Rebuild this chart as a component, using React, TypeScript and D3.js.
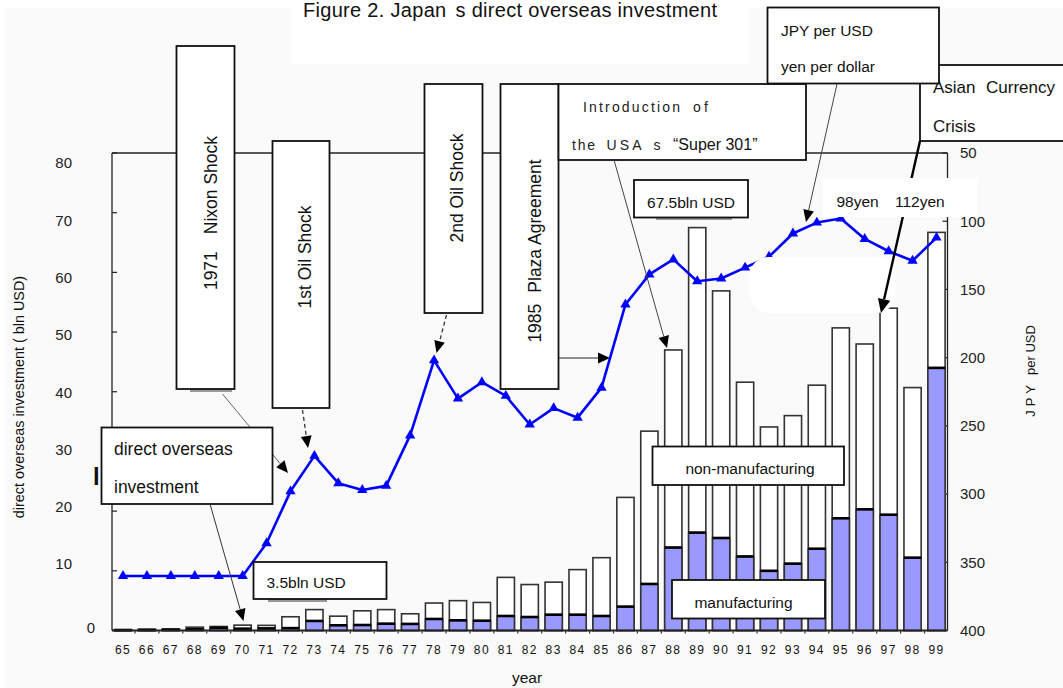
import React from "react";
import * as d3 from "d3";

// Japan's direct overseas investment (bln USD, fiscal year) and the yen rate (JPY per USD)
const yearLabels = [
  "65", "66", "67", "68", "69", "70", "71", "72", "73", "74", "75", "76",
  "77", "78", "79", "80", "81", "82", "83", "84", "85", "86", "87", "88",
  "89", "90", "91", "92", "93", "94", "95", "96", "97", "98", "99",
];

const totalInvestment = [
  0.16, 0.23, 0.28, 0.56, 0.67, 0.9, 0.86, 2.3, 3.5, 2.4, 3.3, 3.5,
  2.8, 4.6, 5.0, 4.7, 8.9, 7.7, 8.1, 10.2, 12.2, 22.3, 33.4, 47.0,
  67.5, 56.9, 41.6, 34.1, 36.0, 41.1, 50.7, 48.0, 54.0, 40.7, 66.7,
];

const manufacturing = [
  0.05, 0.07, 0.1, 0.2, 0.45, 0.3, 0.35, 0.4, 1.6, 0.87, 0.92, 1.14,
  1.1, 1.93, 1.7, 1.64, 2.43, 2.26, 2.65, 2.65, 2.43, 4.0, 7.8, 13.9,
  16.4, 15.5, 12.4, 10.0, 11.2, 13.7, 18.8, 20.3, 19.4, 12.2, 44.0,
];

const yenPerDollar = [
  360, 360, 360, 360, 360, 360, 336, 298, 272, 292, 297, 294,
  257, 202, 230, 218, 228, 249, 237, 244, 222, 161, 139, 128,
  144, 142, 134, 126, 109, 101, 98, 113, 122, 129, 112,
];

const investmentTicks = [0, 10, 20, 30, 40, 50, 60, 70, 80];
const yenTicks = [50, 100, 150, 200, 250, 300, 350, 400];

const FONT = "'Liberation Sans', Arial, Helvetica, sans-serif";

type ArrowProps = {
  x1: number; y1: number; x2: number; y2: number;
  w?: number; dash?: string; color?: string; head?: number;
};

// straight connector ending in a filled arrowhead at (x2, y2)
function Arrow({ x1, y1, x2, y2, w = 1, dash, color = "#444", head = 12 }: ArrowProps) {
  const dx = x2 - x1;
  const dy = y2 - y1;
  const len = Math.hypot(dx, dy);
  const ux = dx / len;
  const uy = dy / len;
  const bx = x2 - ux * head;
  const by = y2 - uy * head;
  const hw = head * 0.45;
  const pts = [
    [x2, y2],
    [bx - uy * hw, by + ux * hw],
    [bx + uy * hw, by - ux * hw],
  ]
    .map((p) => p.join(","))
    .join(" ");
  return (
    <g>
      <line x1={x1} y1={y1} x2={bx} y2={by} stroke={color} strokeWidth={w} strokeDasharray={dash} />
      <polygon points={pts} fill="#000" />
    </g>
  );
}

type NoteProps = {
  x: number; y: number; w: number; h: number; cx: number; cy: number;
  lead?: string; gap?: number; text: string;
};

// tall boxed note with text running bottom-to-top
function VerticalNote({ x, y, w, h, cx, cy, lead, gap = 0, text }: NoteProps) {
  return (
    <g>
      <rect x={x} y={y} width={w} height={h} fill="#fff" stroke="#111" strokeWidth={1.8} />
      <text
        transform={`translate(${cx},${cy}) rotate(-90)`}
        textAnchor="middle"
        dy="0.36em"
        fontSize={17.5}
        fill="#111"
      >
        {lead && <tspan>{lead}</tspan>}
        <tspan dx={lead ? gap : 0}>{text}</tspan>
      </text>
    </g>
  );
}

export default function App() {
  const x = d3
    .scaleBand<string>()
    .domain(yearLabels)
    .range([112, 947.5])
    .paddingInner(0.28)
    .paddingOuter(0.1);
  const bw = x.bandwidth();
  const step = x.step();
  const yL = d3.scaleLinear().domain([0, 80]).range([630.5, 153]);
  const yR = d3.scaleLinear().domain([50, 400]).range([153, 630.5]);
  const yLabel = d3.scaleLinear().domain([10, 80]).range([564, 163]);

  const cx = (i: number) => (x(yearLabels[i]) as number) + bw / 2;
  const line = d3
    .line<number>()
    .x((_, i) => cx(i))
    .y((d) => yR(d));
  const tri = d3.symbol().type(d3.symbolTriangle).size(46)() as string;

  const left = 112;
  const right = 947.5;
  const top = 153;
  const base = yL(0);

  return (
    <svg
      width={1063}
      height={688}
      style={{ position: "absolute", left: 0, top: 0, background: "#fff" }}
      fontFamily={FONT}
    >
      {/* page background */}
      <rect x={6} y={8} width={1057} height={680} fill="#fafafa" />
      <rect x={290} y={0} width={460} height={64} fill="#fff" />

      {/* title */}
      <text x={303} y={17} fontSize={20} letterSpacing={0.3} fill="#111">
        <tspan>Figure 2. Japan</tspan>
        <tspan dx={9}>s direct overseas investment</tspan>
      </text>

      {/* plot frame */}
      <line x1={left} y1={top} x2={right} y2={top} stroke="#222" strokeWidth={1.3} />
      <line x1={left} y1={top} x2={left} y2={base} stroke="#222" strokeWidth={1.3} />
      <line x1={right} y1={top} x2={right} y2={base} stroke="#222" strokeWidth={1.3} />

      {/* left axis ticks and labels */}
      {investmentTicks.map((v) => (
        <g key={`lt${v}`}>
          <line x1={left} x2={left + 5} y1={yL(v)} y2={yL(v)} stroke="#222" strokeWidth={1.2} />
          <text
            x={v === 0 ? 95 : 72}
            y={v === 0 ? yL(0) - 3 : yLabel(v)}
            dy="0.36em"
            textAnchor="end"
            fontSize={15}
            fill="#222"
          >
            {v}
          </text>
        </g>
      ))}

      {/* right axis ticks and labels */}
      {yenTicks.map((v) => (
        <g key={`rt${v}`}>
          <line x1={right - 5} x2={right} y1={yR(v)} y2={yR(v)} stroke="#222" strokeWidth={1.2} />
          <text x={960} y={yR(v)} dy="0.36em" fontSize={15} fill="#222">
            {v}
          </text>
        </g>
      ))}

      {/* axis titles */}
      <text
        transform={`translate(19,397) rotate(-90)`}
        textAnchor="middle"
        dy="0.36em"
        fontSize={14.4}
        fill="#111"
      >
        direct overseas investment ( bln USD)
      </text>
      <text
        transform={`translate(1030,371) rotate(-90)`}
        textAnchor="middle"
        dy="0.36em"
        fontSize={13}
        fill="#111"
      >
        <tspan letterSpacing={4}>JPY</tspan>
        <tspan dx={6}>per USD</tspan>
      </text>
      <text x={527} y={683} textAnchor="middle" fontSize={15.5} fill="#111">
        year
      </text>

      {/* stacked bars: manufacturing (blue) under non-manufacturing (white) */}
      {yearLabels.map((lbl, i) => {
        const bx = x(lbl) as number;
        const t = totalInvestment[i];
        const m = manufacturing[i];
        return (
          <g key={`bar${lbl}`}>
            <rect x={bx} y={yL(t)} width={bw} height={base - yL(t)} fill="#fff" stroke="#333" strokeWidth={1.6} />
            <rect x={bx} y={yL(m)} width={bw} height={base - yL(m)} fill="#9999ff" stroke="#333" strokeWidth={1.6} />
            <line x1={bx} x2={bx + bw} y1={yL(m)} y2={yL(m)} stroke="#000" strokeWidth={2.6} />
          </g>
        );
      })}

      {/* category axis */}
      <line x1={left} x2={right} y1={base} y2={base} stroke="#222" strokeWidth={2} />
      {yearLabels.map((lbl, i) => {
        const bx = (x(lbl) as number) - (step - bw) / 2;
        return (
          <g key={`xt${lbl}`}>
            {i > 0 && <line x1={bx} x2={bx} y1={base} y2={base + 3} stroke="#333" strokeWidth={1.2} />}
            <text x={cx(i)} y={654} textAnchor="middle" fontSize={12} letterSpacing={1.4} fill="#111">
              {lbl}
            </text>
          </g>
        );
      })}

      {/* exchange rate line */}
      <path d={line(yenPerDollar) as string} fill="none" stroke="#0000ff" strokeWidth={2.6} strokeLinejoin="round" />
      {yenPerDollar.map((v, i) => (
        <path key={`m${i}`} d={tri} transform={`translate(${cx(i)},${yR(v)})`} fill="#0000ff" />
      ))}

      {/* light patch over the mid-90s bar tops */}
      <rect x={750} y={257} width={145} height={56} rx={18} fill="#fff" />

      {/* event notes */}
      <rect x={190} y={389} width={42} height={3} fill="#999" />
      <VerticalNote x={176.5} y={46} w={58} h={343} cx={210.5} cy={213} lead="1971" gap={17} text="Nixon Shock" />
      <Arrow x1={222.5} y1={394} x2={288} y2={473} w={1} color="#666" />

      <VerticalNote x={272.5} y={141} w={57} h={267} cx={305} cy={257} text="1st Oil Shock" />
      <Arrow x1={302.5} y1={410} x2={308} y2={448} w={1.3} dash="4,3" color="#333" />

      <VerticalNote x={424.5} y={84} w={58} h={229} cx={457} cy={188} text="2nd Oil Shock" />
      <Arrow x1={446.5} y1={315} x2={436.5} y2={353} w={1.3} dash="4,3" color="#333" />

      <VerticalNote x={500.5} y={84} w={58} h={305} cx={535} cy={251} lead="1985" gap={11} text="Plaza Agreement" />
      <Arrow x1={558.5} y1={358} x2={610} y2={358} w={1.2} color="#222" />

      {/* Super 301 */}
      <rect x={558.5} y={84} width={247.5} height={76} fill="#fff" stroke="#111" strokeWidth={1.8} />
      <text y={112} fontSize={14} fill="#222">
        <tspan x={583} textLength={97} lengthAdjust="spacing">Introduction</tspan>
        <tspan x={693} textLength={15} lengthAdjust="spacing">of</tspan>
      </text>
      <text y={150} fontSize={14} fill="#222">
        <tspan x={572} textLength={23} lengthAdjust="spacing">the</tspan>
        <tspan x={606.5} textLength={35} lengthAdjust="spacing">USA</tspan>
        <tspan x={653.5}>s</tspan>
        <tspan x={673} fontSize={16} fill="#111">{"\u201CSuper 301\u201D"}</tspan>
      </text>
      <Arrow x1={614} y1={160} x2={667} y2={348} w={1} color="#444" />

      {/* peak investment */}
      <rect x={656} y={217} width={76} height={3} fill="#999" />
      <rect x={634} y={180} width={114} height={37.5} fill="#fff" stroke="#111" strokeWidth={1.8} />
      <text x={691} y={208} textAnchor="middle" fontSize={15.5} fill="#111">
        67.5bln USD
      </text>

      {/* Asian currency crisis */}
      <rect x={920} y={65} width={160} height={76} fill="#fff" stroke="#111" strokeWidth={1.8} />
      <text x={933} y={93} fontSize={17} fill="#111">
        <tspan>Asian</tspan>
        <tspan x={986}>Currency</tspan>
      </text>
      <text x={933} y={131.5} fontSize={17} fill="#111">
        Crisis
      </text>
      <Arrow x1={920} y1={141} x2={881} y2={313} w={2.4} color="#000" head={14} />

      {/* exchange rate note */}
      <rect x={767.5} y={7.5} width={171.5} height={76} fill="#fff" stroke="#111" strokeWidth={1.8} />
      <text x={781} y={36} fontSize={15.5} fill="#111">
        JPY per USD
      </text>
      <text x={781} y={72} fontSize={15.5} fill="#111">
        yen per dollar
      </text>
      <Arrow x1={837} y1={84} x2={806} y2={222} w={1} color="#444" />

      {/* yen highs */}
      <rect x={823} y={178} width={154} height={39} fill="#fff" />
      <text x={836.5} y={207} fontSize={15.5} fill="#111">
        98yen
      </text>
      <text x={895} y={207} fontSize={15.5} fill="#111">
        112yen
      </text>

      {/* direct overseas investment */}
      <text x={93} y={485} fontSize={24} fontWeight="bold" fill="#111">
        l
      </text>
      <rect x={101.5} y={427.5} width={171} height={76.5} fill="#fff" stroke="#111" strokeWidth={1.8} />
      <text x={114} y={455} fontSize={17.5} fill="#111">
        direct overseas
      </text>
      <text x={114} y={493} fontSize={17.5} fill="#111">
        investment
      </text>
      <Arrow x1={210} y1={504} x2={243.5} y2={621} w={1} color="#333" />

      {/* 1973 investment */}
      <rect x={268} y={599} width={59} height={3} fill="#999" />
      <rect x={253.5} y={562} width={133} height={37} fill="#fff" stroke="#111" strokeWidth={1.8} />
      <text x={266.5} y={588} fontSize={15.5} fill="#111">
        3.5bln USD
      </text>

      {/* series labels */}
      <rect x={652.5} y={446.5} width={191.5} height={38.5} fill="#fff" stroke="#111" strokeWidth={1.8} />
      <text x={750} y={474} textAnchor="middle" fontSize={15.5} fill="#111">
        non-manufacturing
      </text>
      <rect x={672} y={580} width={153} height={38.5} fill="#fff" stroke="#111" strokeWidth={1.8} />
      <text x={743.5} y={608} textAnchor="middle" fontSize={15.5} fill="#111">
        manufacturing
      </text>
    </svg>
  );
}
